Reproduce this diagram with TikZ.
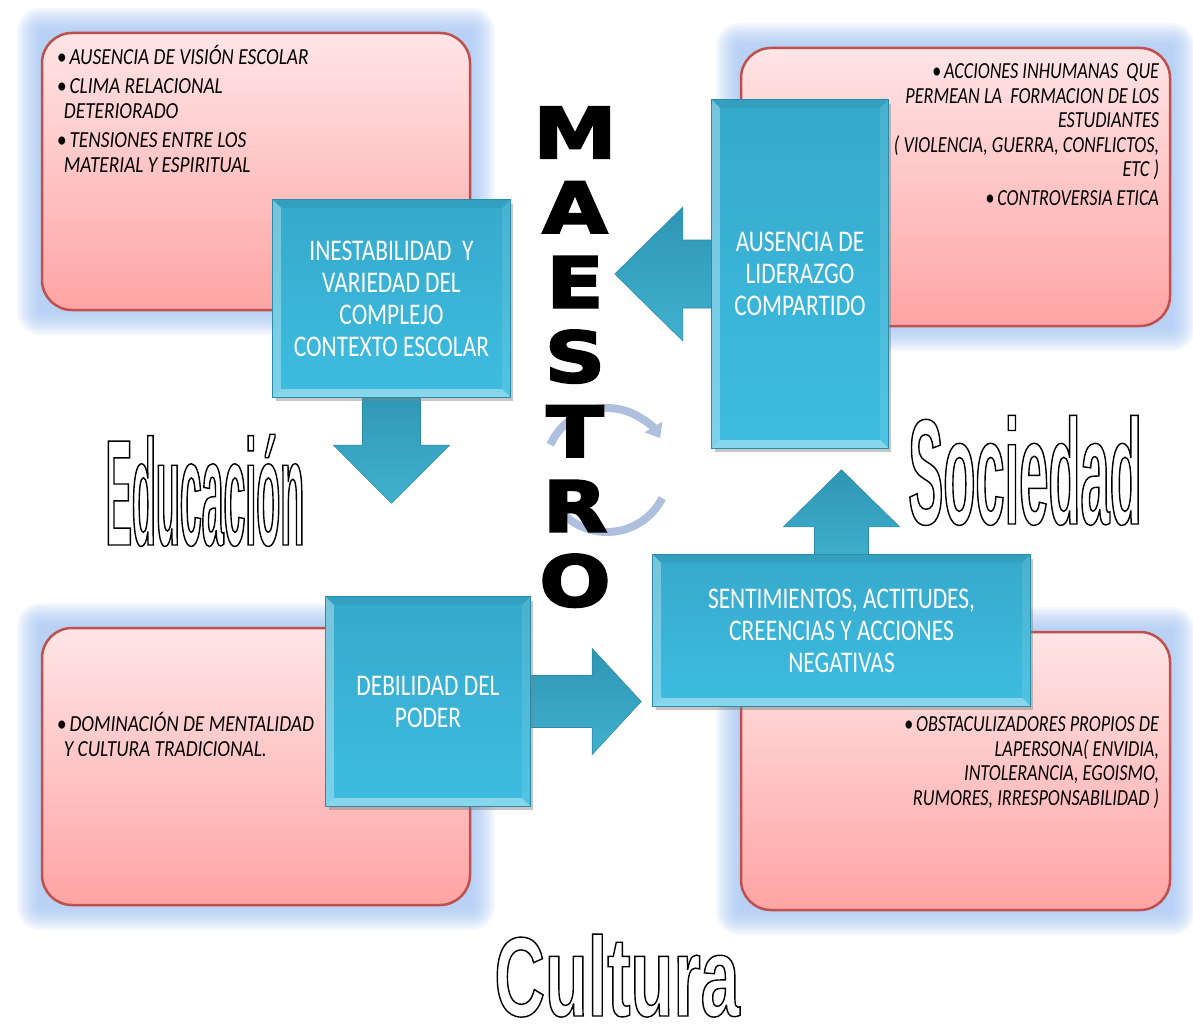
\documentclass[tikz,border=0pt]{standalone}
\usepackage{fontspec}
\usepackage{tikz}
\usetikzlibrary{positioning,calc,arrows.meta,shadows}

\setmainfont{Carlito}
\newfontfamily\handfont[FakeStretch=0.84]{Carlito}
\newfontfamily\handnarrow[FakeStretch=0.79]{Carlito}
\newfontfamily\boxfont[FakeStretch=0.78]{Carlito}
\newfontfamily\maefont[FakeStretch=1.2]{DejaVu Sans}
\newfontfamily\outfont{Liberation Sans}

\definecolor{pinkline}{HTML}{C0504D}
\definecolor{pinktop}{HTML}{FFE5E6}
\definecolor{pinkbot}{HTML}{FFA4A4}
\definecolor{haloblue}{HTML}{9EC0F0}
\definecolor{bluetop}{HTML}{36A9CB}
\definecolor{bluebot}{HTML}{3DBDE1}
\definecolor{blueedge}{HTML}{2B8CA8}
\definecolor{arrowdark}{HTML}{2E96B4}
\definecolor{arrowlight}{HTML}{41B0CF}
\definecolor{cyclecol}{HTML}{AFC0DE}

\pgfdeclarelayer{bg}
\pgfdeclarelayer{arr}
\pgfsetlayers{bg,arr,main}

\newcommand\bul{\textbullet\hspace{3pt}}
% hollow letters: pdf text render mode 1 (stroke only)
\newcommand\outlined[3]{{\fontsize{#1}{#1}\selectfont\addfontfeatures{FakeStretch=#2}%
  \special{pdf:literal direct 1 Tr 1.4 w}#3\special{pdf:literal direct 0 Tr}}}
% heavier letters: fill and stroke
\newcommand\heavy[1]{\special{pdf:literal direct 2 Tr 2.2 w}#1\special{pdf:literal direct 0 Tr}}
% bevel edges of a blue box
\newcommand\bevel[1]{%
  \fill[white, fill opacity=.32] (#1.north west) -- ($(#1.north west)+(8,8)$) -- ($(#1.south west)+(8,-8)$) -- (#1.south west) -- cycle;
  \fill[white, fill opacity=.38] (#1.south west) -- ($(#1.south west)+(8,-8)$) -- ($(#1.south east)+(-8,-8)$) -- (#1.south east) -- cycle;
  \fill[black, fill opacity=.05] (#1.north west) -- (#1.north east) -- ($(#1.north east)+(-8,8)$) -- ($(#1.north west)+(8,8)$) -- cycle;
  \fill[white, fill opacity=.1] (#1.north east) -- (#1.south east) -- ($(#1.south east)+(-8,-8)$) -- ($(#1.north east)+(-8,8)$) -- cycle;
  \draw[blueedge, line width=.8pt] (#1.north west) rectangle (#1.south east);
}

\tikzset{
  pinkbox/.style={draw=pinkline, line width=2.5pt, rounded corners=30pt,
    top color=pinktop, bottom color=pinkbot, inner sep=0},
  pinktxt/.style={inner sep=0, font=\handfont\itshape\fontsize{23}{24.5}\selectfont},
  pinknarrow/.style={inner sep=0, font=\handnarrow\itshape\fontsize{23}{24.5}\selectfont},
  bluebox/.style={top color=bluetop, bottom color=bluebot, text=white, align=center,
    inner sep=0, font=\boxfont\fontsize{30}{32}\selectfont,
    drop shadow={opacity=.45, shadow xshift=3pt, shadow yshift=-4pt}},
  blockarrow/.style={top color=arrowdark, bottom color=arrowlight, draw=blueedge, line width=.6pt},
  maeletter/.style={anchor=base, inner sep=0, font=\maefont\bfseries\fontsize{70}{70}\selectfont},
  outlabel/.style={anchor=base, inner sep=0, font=\outfont\bfseries},
  cycarrow/.style={cyclecol, line width=8pt}
}

\begin{document}
\begin{tikzpicture}[x=1pt,y=-1pt]
  \useasboundingbox (0,0) rectangle (1193,1027);

  % pink boxes
  \node[pinkbox, minimum width=428pt, minimum height=277pt] (vision) at (256,171.5) {};
  \node[pinkbox, minimum width=429pt, minimum height=278pt] (acciones) at (955.5,187) {};
  \node[pinkbox, minimum width=428pt, minimum height=277pt] (dominacion) at (256,766.5) {};
  \node[pinkbox, minimum width=429pt, minimum height=278pt] (obstaculos) at (955.5,771) {};

  \begin{pgfonlayer}{bg}
    \foreach \b in {vision,acciones,dominacion,obstaculos}
      \foreach \g [evaluate=\g as \r using 30+\g] in {24,22,...,2}
        \fill[haloblue, fill opacity=.1, rounded corners=\r pt]
          ($(\b.north west)+(-\g,-\g)$) rectangle ($(\b.south east)+(\g,\g)$);
  \end{pgfonlayer}

  \node[pinktxt, align=left, below right=13pt and 16pt of vision.north west] (visiontxt)
    {\bul AUSENCIA DE VISIÓN ESCOLAR\\[5pt]
     \bul CLIMA RELACIONAL\\
     \hspace*{7pt}DETERIORADO\\[5pt]
     \bul TENSIONES ENTRE LOS\\
     \hspace*{7pt}MATERIAL Y ESPIRITUAL};
  \node[pinknarrow, align=right, below left=17pt and 12pt of acciones.north east] (accionestxt)
    {\bul ACCIONES INHUMANAS\ \ QUE\\
     PERMEAN LA\ \ FORMACION DE LOS\\
     ESTUDIANTES\\
     ( VIOLENCIA, GUERRA, CONFLICTOS,\\
     ETC )\\[4pt]
     \bul CONTROVERSIA ETICA};
  \node[pinktxt, align=left, below right=85pt and 16pt of dominacion.north west] (dominaciontxt)
    {\bul DOMINACIÓN DE MENTALIDAD\\[1pt]
     \hspace*{7pt}Y CULTURA TRADICIONAL.};
  \node[pinknarrow, align=right, below left=86pt and 12pt of obstaculos.north east] (obstaculostxt)
    {\bul OBSTACULIZADORES PROPIOS DE\\
     LAPERSONA( ENVIDIA,\\
     INTOLERANCIA, EGOISMO,\\
     RUMORES, IRRESPONSABILIDAD )};

  % blue boxes
  \node[bluebox, minimum width=237pt, minimum height=197pt] (inestab) at (391.5,298.5)
    {INESTABILIDAD\ \ Y\\VARIEDAD DEL\\COMPLEJO\\CONTEXTO ESCOLAR};
  \node[bluebox, minimum width=176pt, minimum height=348pt] (liderazgo) at (800,274)
    {AUSENCIA DE\\LIDERAZGO\\COMPARTIDO};
  \node[bluebox, minimum width=204pt, minimum height=209pt] (debilidad) at (428,701.5)
    {DEBILIDAD DEL\\PODER};
  \node[bluebox, minimum width=377pt, minimum height=151pt] (sentim) at (841.5,630.5)
    {SENTIMIENTOS, ACTITUDES,\\CREENCIAS Y ACCIONES\\NEGATIVAS};
  \bevel{inestab}
  \bevel{liderazgo}
  \bevel{debilidad}
  \bevel{sentim}

  % block arrows
  \begin{pgfonlayer}{arr}
    \path[blockarrow] ($(inestab.south)+(-29,-10)$) -- ++(0,58) -- ++(-29,0)
      -- ($(inestab.south)+(0,106)$) -- ($(inestab.south)+(58,48)$) -- ++(-29,0) -- ++(0,-58) -- cycle;
    \path[blockarrow] ($(liderazgo.west)+(10,-34)$) -- ++(-39,0) -- ++(0,-33)
      -- ($(liderazgo.west)+(-97,0)$) -- ($(liderazgo.west)+(-29,67)$) -- ++(0,-33) -- ++(39,0) -- cycle;
    \path[blockarrow] ($(debilidad.east)+(-10,-26)$) -- ++(72,0) -- ++(0,-27)
      -- ($(debilidad.east)+(111,0)$) -- ($(debilidad.east)+(62,53)$) -- ++(0,-27) -- ++(-72,0) -- cycle;
    \path[blockarrow] ($(sentim.north)+(-27,10)$) -- ++(0,-38) -- ++(-31,0)
      -- ($(sentim.north)+(0,-85)$) -- ($(sentim.north)+(58,-28)$) -- ++(-31,0) -- ++(0,38) -- cycle;
  \end{pgfonlayer}

  % cycle arrow behind the letters
  \coordinate (cyc) at (607,470);
  \draw[cycarrow, -{Triangle[width=20pt,length=13pt]}] ($(cyc)+(-156:62)$) arc[start angle=-156, end angle=-31, radius=62];
  \draw[cycarrow] ($(cyc)+(27:62)$) arc[start angle=27, end angle=136, radius=62];

  \foreach \ch [count=\i] in {M,A,E,S,T,R,O}
    \node[maeletter] (mae\i) at (575,{158+74.7*(\i-1)}) {\heavy{\ch}};

  % outlined titles
  \node[outlabel] (educacion) at (205,545) {\outlined{151}{0.26}{Educación}};
  \node[outlabel] (sociedad) at (1025,524) {\outlined{150}{0.35}{Sociedad}};
  \node[outlabel] (cultura) at (617,1016) {\outlined{113}{0.62}{Cultura}};
\end{tikzpicture}
\end{document}
